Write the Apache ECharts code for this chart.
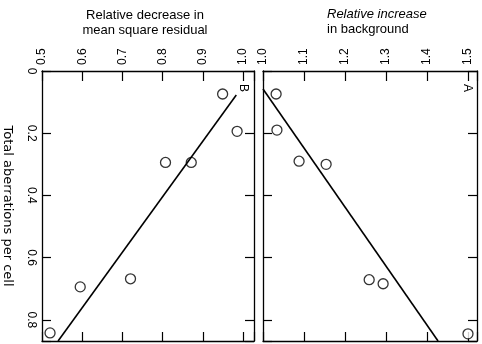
<!DOCTYPE html>
<html><head><meta charset="utf-8">
<script src="https://cdn.jsdelivr.net/npm/echarts@6/dist/echarts.min.js"></script>
<style>html,body{margin:0;padding:0;background:#fff}#c{width:482px;height:344px}</style>
</head><body><div id="c"></div>
<script>
// Total aberrations per cell (vertical axis)
const aberB = [0.074, 0.194, 0.294, 0.294, 0.668, 0.694, 0.842];
const decreaseB = [0.949, 0.985, 0.807, 0.871, 0.720, 0.595, 0.520];
const aberA = [0.074, 0.190, 0.290, 0.300, 0.671, 0.684, 0.845];
const increaseA = [1.032, 1.034, 1.088, 1.154, 1.259, 1.293, 1.500];
// fitted lines: [value, aberrations]
const lineB = [[0.983, 0.077], [0.540, 0.868]];
const lineA = [[1.000, 0.058], [1.427, 0.868]];
const aberTicks = [0, 0.2, 0.4, 0.6, 0.8];
const bTicks = [0.5, 0.6, 0.7, 0.8, 0.9, 1.0];
const aTicks = [1.0, 1.1, 1.2, 1.3, 1.4, 1.5];

const FONT = 'Liberation Sans';
const near = (v, arr) => arr.some(t => Math.abs(t - v) < 1e-6);
const chart = echarts.init(document.getElementById('c'));

function topAxis(gi, min, max, ticks, showLabel) {
  return {
    type: 'value', gridIndex: gi, position: 'top', min: min, max: max, interval: 0.1,
    axisLine: {show: true, onZero: false, lineStyle: {color: '#000', width: 1.3}},
    axisTick: {show: true, inside: true, length: 10, lineStyle: {color: '#000', width: 1.2}},
    axisLabel: {show: showLabel, rotate: -90, margin: 6, color: '#000', fontFamily: FONT, fontSize: 12,
      formatter: v => near(v, ticks) ? v.toFixed(1) : ''},
    splitLine: {show: false}
  };
}
function bottomAxis(gi, min, max) {
  return {
    type: 'value', gridIndex: gi, position: 'bottom', min: min, max: max, interval: 0.1,
    axisLine: {show: true, onZero: false, lineStyle: {color: '#000', width: 1.3}},
    axisTick: {show: true, inside: true, length: 9, lineStyle: {color: '#000', width: 1.2}},
    axisLabel: {show: false}, splitLine: {show: false}
  };
}
function sideAxis(gi, pos, showLabel, name) {
  return {
    type: 'value', gridIndex: gi, position: pos, inverse: true, min: 0, max: 0.868, interval: 0.2,
    name: name || '', nameLocation: 'middle', nameRotate: -90, nameGap: 28,
    nameTextStyle: {color: '#000', fontFamily: 'DejaVu Sans', fontSize: 13},
    axisLine: {show: true, onZero: false, lineStyle: {color: '#000', width: 1.3}},
    axisTick: {show: true, inside: true, length: 9, lineStyle: {color: '#000', width: 1.2}},
    axisLabel: {show: showLabel, rotate: -90, margin: 5, color: '#000', fontFamily: FONT, fontSize: 12,
      formatter: v => near(v, aberTicks) ? (v === 0 ? '0' : v.toFixed(1)) : ''},
    splitLine: {show: false}
  };
}

const circle = {symbol: 'circle', symbolSize: 10,
  itemStyle: {color: '#fff', borderColor: '#000', borderWidth: 1.3}};

chart.setOption({
  animation: false,
  backgroundColor: '#fff',
  grid: [
    {left: 39, right: 228, top: 71, bottom: 3},
    {left: 263, right: 5, top: 71, bottom: 3}
  ],
  xAxis: [
    topAxis(0, 0.5, 1.027, bTicks, true),
    bottomAxis(0, 0.5, 1.027),
    topAxis(1, 1.0, 1.522, aTicks, true),
    bottomAxis(1, 1.0, 1.522)
  ],
  yAxis: [
    sideAxis(0, 'left', true, 'Total aberrations per cell'),
    sideAxis(0, 'right', false),
    sideAxis(1, 'left', false),
    sideAxis(1, 'right', false)
  ],
  series: [
    Object.assign({type: 'scatter', xAxisIndex: 0, yAxisIndex: 0,
      data: decreaseB.map((v, i) => [v, aberB[i]])}, circle),
    {type: 'line', xAxisIndex: 0, yAxisIndex: 0, data: lineB, symbol: 'none',
      lineStyle: {color: '#000', width: 1.6}},
    Object.assign({type: 'scatter', xAxisIndex: 2, yAxisIndex: 2,
      data: increaseA.map((v, i) => [v, aberA[i]])}, circle),
    {type: 'line', xAxisIndex: 2, yAxisIndex: 2, data: lineA, symbol: 'none',
      lineStyle: {color: '#000', width: 1.6}}
  ],
  graphic: [
    {type: 'text', x: 145, y: 8, style: {text: 'Relative decrease in\nmean square residual',
      fill: '#000', font: '13px "Liberation Sans"', lineHeight: 15, textAlign: 'center', textVerticalAlign: 'top'}},
    {type: 'text', x: 327, y: 8, style: {text: 'Relative increase',
      fill: '#000', font: 'italic 13px "Liberation Sans"', textVerticalAlign: 'top'}},
    {type: 'text', x: 327, y: 23, style: {text: 'in background',
      fill: '#000', font: '13px "Liberation Sans"', textVerticalAlign: 'top'}},
    {type: 'text', x: 243, y: 88, rotation: -Math.PI / 2, style: {text: 'B',
      fill: '#000', font: '12px "Liberation Sans"', textAlign: 'center', textVerticalAlign: 'middle'}},
    {type: 'text', x: 467, y: 88, rotation: -Math.PI / 2, style: {text: 'A',
      fill: '#000', font: '12px "Liberation Sans"', textAlign: 'center', textVerticalAlign: 'middle'}}
  ]
});
</script></body></html>
